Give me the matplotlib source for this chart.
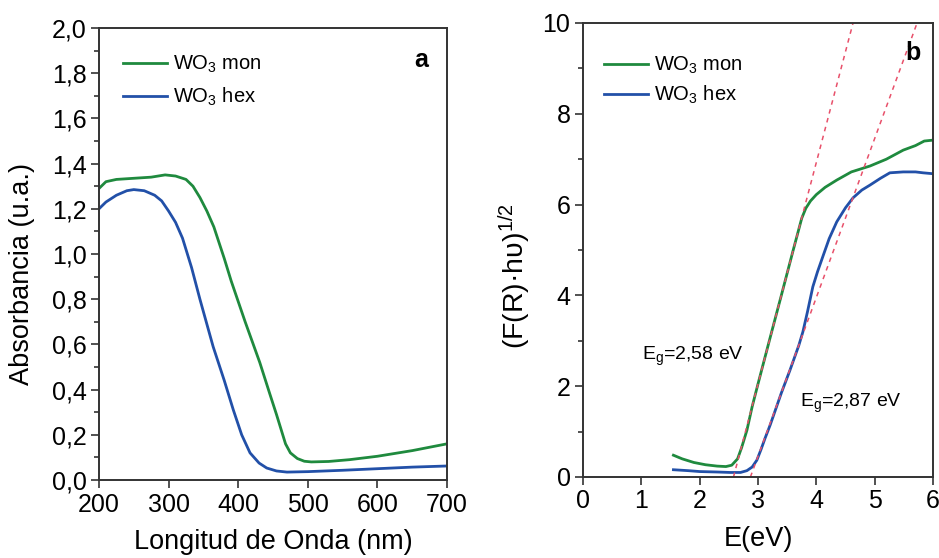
import matplotlib
matplotlib.use("Agg")
import matplotlib.pyplot as plt
from matplotlib.ticker import MultipleLocator, FuncFormatter
import numpy as np

plt.rcParams['font.family'] = ['Liberation Sans', 'DejaVu Sans']
plt.rcParams['mathtext.fontset'] = 'custom'
plt.rcParams['mathtext.rm'] = 'Liberation Sans'
plt.rcParams['mathtext.it'] = 'Liberation Sans:italic'
plt.rcParams['mathtext.bf'] = 'Liberation Sans:bold'

# --- (a) UV-Vis absorbance spectra ---
wl_mon = [200, 210, 225, 250, 275, 295, 310, 325, 335, 345, 355, 365, 380, 390,
          410, 431, 445, 455, 462, 468, 475, 485, 495, 505, 530, 560, 600, 650, 700]
abs_mon = [1.29, 1.32, 1.33, 1.335, 1.34, 1.35, 1.345, 1.33, 1.30, 1.25, 1.19, 1.12,
           0.98, 0.88, 0.70, 0.52, 0.385, 0.29, 0.22, 0.16, 0.12, 0.095, 0.083,
           0.08, 0.082, 0.09, 0.105, 0.13, 0.16]

wl_hex = [200, 210, 225, 240, 250, 265, 280, 290, 300, 310, 320, 333, 345, 364,
          380, 393, 405, 417, 430, 441, 455, 470, 500, 550, 600, 650, 700]
abs_hex = [1.20, 1.23, 1.26, 1.28, 1.285, 1.28, 1.26, 1.235, 1.19, 1.14, 1.07, 0.94,
           0.80, 0.59, 0.44, 0.31, 0.20, 0.12, 0.075, 0.053, 0.04, 0.035, 0.037,
           0.043, 0.05, 0.057, 0.062]

# --- (b) Tauc plot ---
E_mon = [1.55, 1.7, 1.9, 2.1, 2.3, 2.45, 2.55, 2.65, 2.72, 2.81, 2.9, 3.0, 3.2, 3.4,
         3.6, 3.75, 3.82, 3.9, 4.0, 4.15, 4.35, 4.6, 4.92, 5.2, 5.49, 5.7, 5.85, 6.0]
F_mon = [0.48, 0.40, 0.32, 0.27, 0.24, 0.23, 0.26, 0.40, 0.65, 1.03, 1.55, 2.05,
         3.03, 4.0, 4.98, 5.7, 5.92, 6.08, 6.22, 6.38, 6.54, 6.72, 6.85, 7.0, 7.2,
         7.3, 7.4, 7.42]

E_hex = [1.55, 1.8, 2.0, 2.3, 2.52, 2.7, 2.81, 2.9, 2.98, 3.05, 3.12, 3.21, 3.4,
         3.55, 3.7, 3.77, 3.85, 3.94, 4.02, 4.11, 4.22, 4.35, 4.5, 4.63, 4.78, 4.92,
         5.1, 5.26, 5.49, 5.7, 5.83, 6.0]
F_hex = [0.16, 0.14, 0.12, 0.11, 0.10, 0.10, 0.14, 0.22, 0.37, 0.60, 0.85, 1.15,
         1.85, 2.36, 2.9, 3.2, 3.65, 4.19, 4.52, 4.85, 5.25, 5.62, 5.93, 6.15, 6.32,
         6.43, 6.58, 6.70, 6.72, 6.72, 6.70, 6.68]

# band-gap tangents: x-intercept (eV) and slope
Eg = [2.58, 2.87]
tangent_slope = [4.88, 3.50]
eg_labels = [r'E$_\mathrm{g}$=2,58 eV', r'E$_\mathrm{g}$=2,87 eV']

labels = ['WO$_3$ mon', 'WO$_3$ hex']
green = '#1f8a3e'
blue = '#2250a8'
red = '#e8506a'
spine_col = '#333333'

fig = plt.figure(figsize=(9.39, 5.58), dpi=100)
axa = fig.add_axes([99/939, 1-480/558, 348/939, 452/558])
axb = fig.add_axes([583/939, 1-477/558, 350/939, 454/558])

comma = FuncFormatter(lambda v, p: f'{v:.1f}'.replace('.', ','))

for ax in (axa, axb):
    for side in ax.spines.values():
        side.set_color(spine_col)
        side.set_linewidth(1.4)
    ax.tick_params(which='both', direction='out', color=spine_col, width=1.2,
                   labelsize=18, top=False, right=False, pad=3)
    ax.tick_params(which='major', length=6)
    ax.tick_params(which='minor', length=3.5)

# panel a
axa.plot(wl_mon, abs_mon, color=green, lw=2.0, label=labels[0])
axa.plot(wl_hex, abs_hex, color=blue, lw=2.0, label=labels[1])
axa.set_xlim(200, 700)
axa.set_ylim(0, 2.0)
axa.xaxis.set_major_locator(MultipleLocator(100))
axa.yaxis.set_major_locator(MultipleLocator(0.2))
axa.yaxis.set_minor_locator(MultipleLocator(0.1))
axa.yaxis.set_major_formatter(comma)
axa.set_xlabel('Longitud de Onda (nm)', fontsize=19.5, labelpad=9)
axa.set_ylabel('Absorbancia (u.a.)', fontsize=19.5)
axa.yaxis.set_label_coords(-0.184, 0.456)
axa.legend(loc='upper left', bbox_to_anchor=(0.069, 0.943), frameon=False,
           fontsize=14.5, handlelength=2.2, handletextpad=0.3, labelspacing=0.55,
           borderpad=0, borderaxespad=0)
axa.text(0.945, 0.93, 'a', transform=axa.transAxes, fontsize=18,
         fontweight='bold', ha='right', va='center')

# panel b
axb.plot(E_mon, F_mon, color=green, lw=2.0, label=labels[0])
axb.plot(E_hex, F_hex, color=blue, lw=2.0, label=labels[1])
for eg, k in zip(Eg, tangent_slope):
    e = np.array([eg, eg + 10.0 / k])
    axb.plot(e, k * (e - eg), color=red, lw=1.1, ls=(0, (3, 3)))
axb.set_xlim(0, 6)
axb.set_ylim(0, 10)
axb.xaxis.set_major_locator(MultipleLocator(1))
axb.yaxis.set_major_locator(MultipleLocator(2))
axb.yaxis.set_minor_locator(MultipleLocator(1))
axb.set_xlabel('E(eV)', fontsize=19.5, labelpad=9)
axb.set_ylabel('(F(R)·hυ)$^{1/2}$', fontsize=20.5)
axb.yaxis.set_label_coords(-0.143, 0.443)
axb.legend(loc='upper left', bbox_to_anchor=(0.06, 0.93), frameon=False,
           fontsize=14.5, handlelength=2.2, handletextpad=0.3, labelspacing=0.4,
           borderpad=0, borderaxespad=0)
axb.text(0.965, 0.935, 'b', transform=axb.transAxes, fontsize=18,
         fontweight='bold', ha='right', va='center')
axb.text(1.02, 2.65, eg_labels[0], fontsize=14, ha='left', va='center')
axb.text(3.72, 1.62, eg_labels[1], fontsize=14, ha='left', va='center')

fig.savefig('out.png', dpi=100)
